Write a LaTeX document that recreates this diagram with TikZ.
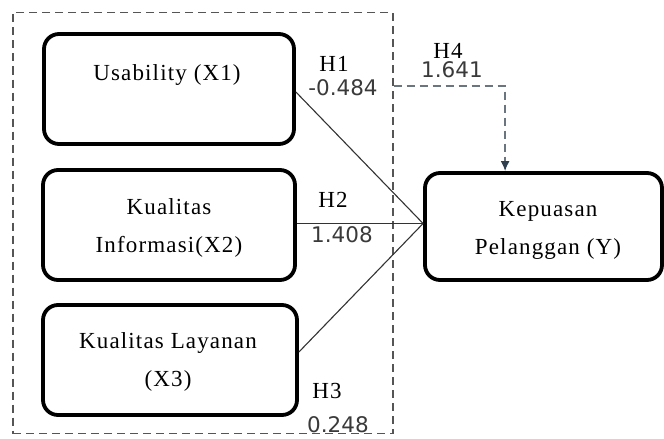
\documentclass[tikz,border=0pt]{standalone}
\usepackage{fontspec}
\usetikzlibrary{arrows.meta,calc}
\newfontfamily\boxfont[LetterSpace=5]{Liberation Serif}
\newfontfamily\numfont{DejaVu Sans}
\definecolor{framegray}{HTML}{555555}
\definecolor{hfourgray}{HTML}{6B7580}
\definecolor{tipblue}{HTML}{2F3F4F}
\definecolor{numgray}{HTML}{3A3A3A}
\tikzset{
  varbox/.style={draw=black, line width=3.8pt, rounded corners=15pt, fill=white, inner sep=0pt},
  boxtext/.style={font=\boxfont\fontsize{23}{38}\selectfont, align=center, inner sep=0pt},
  hlabel/.style={font=\boxfont\fontsize{23}{25}\selectfont, inner sep=0pt},
  numlabel/.style={font=\numfont\fontsize{21.5}{24}\selectfont, text=numgray, inner sep=0pt},
  path/.style={draw=black!80, line width=1.1pt},
  dframe/.style={draw=framegray, line width=1.2pt, dash pattern=on 8pt off 5pt},
}
\begin{document}
\begin{tikzpicture}[x=1pt,y=-1pt]
\useasboundingbox (0,0) rectangle (664,439);
% dashed frame
\node[dframe, minimum width=380pt, minimum height=421pt, inner sep=0pt] (frame) at (203,223) {};
% boxes
\node[varbox, minimum width=250pt, minimum height=110pt] (x1) at (169,89) {};
\node[boxtext] (x1t) at (167,75) {Usability (X1)};
\node[varbox, minimum width=252pt, minimum height=110pt] (x2) at (169,225) {};
\node[boxtext] (x2t) at (169,228) {Kualitas\\Informasi(X2)};
\node[varbox, minimum width=254pt, minimum height=110pt] (x3) at (170,360) {};
\node[boxtext] (x3t) at (168,362) {Kualitas Layanan\\(X3)};
\node[varbox, minimum width=237pt, minimum height=107pt] (y) at (543.5,226.5) {};
\node[boxtext] (yt) at (548,230) {Kepuasan\\Pelanggan (Y)};
% connectors
\coordinate (yin) at ($(y.west)+(0,-3)$);
\draw[path] ($(x1.east)+(0,3)$) -- (yin);
\draw[path] (x2.east |- yin) -- (yin);
\draw[path] ($(x3.east)+(0,-8)$) -- (yin);
\coordinate (h4start) at (frame.east |- 0,86);
\coordinate (h4end) at ($(y.north west)+(82,0)$);
\draw[draw=hfourgray, line width=1.6pt, dash pattern=on 8pt off 5pt, -{Latex[length=10pt,width=9pt,color=tipblue]}] (h4start) -| (h4end);
% labels
\node[hlabel] (h1) at (334,64) {H1};
\node[numlabel] (v1) at (343,88) {-0.484};
\node[hlabel] (h4) at (448,51) {H4};
\node[numlabel] (v4) at (452,70) {1.641};
\node[hlabel] (h2) at (333,200) {H2};
\node[numlabel] (v2) at (342,235) {1.408};
\node[hlabel] (h3) at (327,391) {H3};
\node[numlabel] (v3) at (338,425) {0.248};
\end{tikzpicture}
\end{document}
